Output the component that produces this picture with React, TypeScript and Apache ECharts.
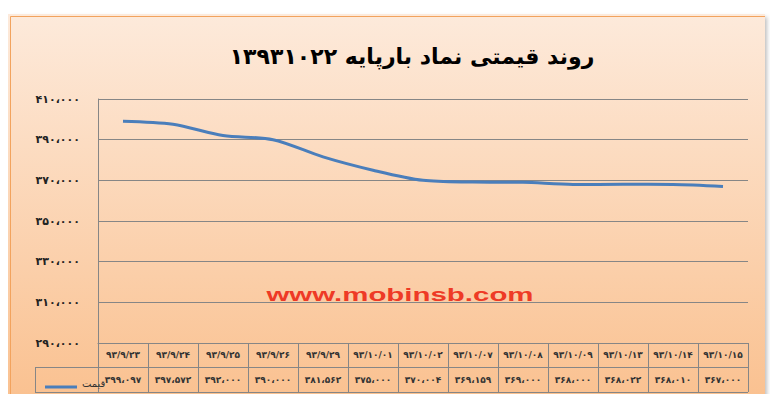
import { useEffect, useRef } from "react";
import * as echarts from "echarts";

const title = "روند قیمتی نماد بارپایه ۱۳۹۳۱۰۲۲";
const seriesName = "قیمت";
const watermark = "www.mobinsb.com";

const categories = [
  "۹۳/۹/۲۳", "۹۳/۹/۲۴", "۹۳/۹/۲۵", "۹۳/۹/۲۶", "۹۳/۹/۲۹", "۹۳/۱۰/۰۱", "۹۳/۱۰/۰۲",
  "۹۳/۱۰/۰۷", "۹۳/۱۰/۰۸", "۹۳/۱۰/۰۹", "۹۳/۱۰/۱۳", "۹۳/۱۰/۱۴", "۹۳/۱۰/۱۵",
];
const prices = [
  399097, 397572, 392000, 390000, 381562, 375000, 370004,
  369159, 369000, 368000, 368022, 368010, 367000,
];

const faDigits = "۰۱۲۳۴۵۶۷۸۹";
const fa = (n: number) =>
  n.toLocaleString("en-US").replace(/,/g, "،").replace(/\d/g, (d) => faDigits[Number(d)]);

const gray = "#868686";
const font = "DejaVu Sans";

export default function App() {
  const ref = useRef<HTMLDivElement | null>(null);

  useEffect(() => {
    if (!ref.current) return;
    const chart = echarts.init(ref.current, undefined, { renderer: "svg" });
    chart.setOption({
      animation: false,
      backgroundColor: new echarts.graphic.LinearGradient(0, 0, 0, 1, [
        { offset: 0, color: "#fdeadb" },
        { offset: 1, color: "#fac190" },
      ]),
      title: {
        text: title,
        left: 399,
        textAlign: "center",
        top: 26,
        textStyle: { fontFamily: font, fontSize: 22, fontWeight: "bold", color: "#000" },
      },
      grid: { left: 90, top: 85, right: 17, bottom: 57 },
      legend: {
        left: 32,
        top: 359,
        icon: "rect",
        itemWidth: 32,
        itemHeight: 3,
        itemGap: 2,
        formatter: (name: string) => `{a|${name}}\n{b|}`,
        textStyle: {
          fontFamily: font,
          fontSize: 10,
          color: "#333",
          rich: {
            a: { fontFamily: font, fontSize: 10, color: "#333", lineHeight: 12 },
            b: { height: 8, lineHeight: 8 },
          },
        },
        data: [seriesName],
      },
      xAxis: [
        {
          type: "category",
          data: categories,
          boundaryGap: true,
          axisLine: { lineStyle: { color: gray } },
          axisTick: { show: true, interval: 0, length: 49, lineStyle: { color: gray } },
          axisLabel: { interval: 0, margin: 7, fontFamily: font, fontSize: 9, fontWeight: "bold", color: "#333" },
        },
        {
          type: "category",
          data: categories,
          position: "bottom",
          boundaryGap: true,
          axisLine: { show: false },
          axisTick: { show: false },
          axisLabel: {
            interval: 0,
            margin: 32,
            fontFamily: font,
            fontSize: 9,
            fontWeight: "bold",
            color: "#333",
            formatter: (_v: string, i: number) => fa(prices[i]),
          },
        },
      ],
      yAxis: {
        type: "value",
        min: 290000,
        max: 410000,
        interval: 20000,
        axisLine: { show: true, lineStyle: { color: gray } },
        axisTick: { show: false },
        splitLine: { lineStyle: { color: gray, width: 1 } },
        axisLabel: {
          margin: 18,
          fontFamily: font,
          fontSize: 11,
          fontWeight: "bold",
          color: "#222",
          formatter: (v: number) => fa(v),
        },
      },
      graphic: [
        {
          type: "rect",
          left: 0,
          top: 0,
          shape: { width: 756, height: 385 },
          style: { fill: "none", stroke: "#f2a35e", lineWidth: 1 },
        },
        { type: "line", shape: { x1: 27, y1: 353.5, x2: 740, y2: 353.5 }, style: { stroke: gray, lineWidth: 1 } },
        { type: "line", shape: { x1: 27, y1: 378.5, x2: 740, y2: 378.5 }, style: { stroke: gray, lineWidth: 1 } },
        { type: "line", shape: { x1: 27.5, y1: 353, x2: 27.5, y2: 379 }, style: { stroke: gray, lineWidth: 1 } },
        {
          type: "text",
          x: 392,
          y: 280,
          scaleX: 1.55,
          style: {
            text: watermark,
            fontFamily: "Liberation Sans",
            fontSize: 19,
            fontWeight: "bold",
            fill: "#ee3a26",
            textAlign: "center",
            textVerticalAlign: "middle",
          },
        },
      ],
      series: [
        {
          name: seriesName,
          type: "line",
          data: prices,
          smooth: 0.3,
          showSymbol: false,
          symbol: "none",
          lineStyle: { color: "#4a7ebb", width: 3 },
          itemStyle: { color: "#4a7ebb" },
        },
      ],
    });
    return () => chart.dispose();
  }, []);

  return (
    <div
      ref={ref}
      style={{
        position: "relative",
        top: 6,
        width: 757,
        height: 386,
        boxShadow: "2px 3px 4px rgba(0,0,0,0.25)",
      }}
    />
  );
}
